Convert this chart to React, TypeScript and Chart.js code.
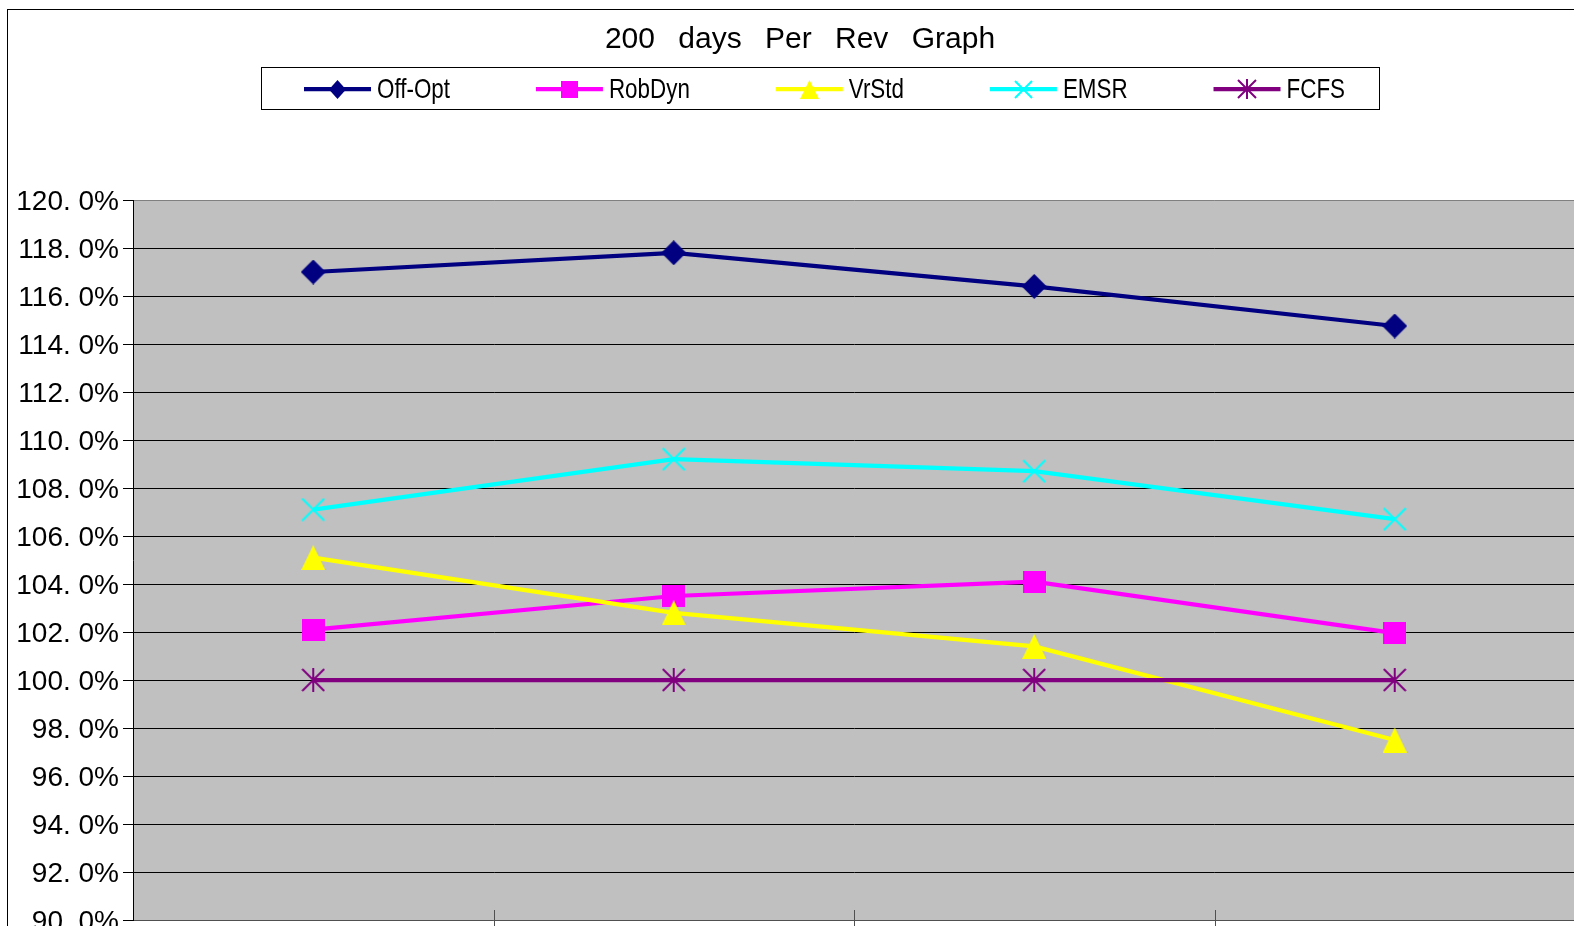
import { useEffect, useRef } from 'react';
import { Chart, registerables } from 'chart.js';

Chart.register(...registerables);

// ---- Chart data ----
const chartTitle = '200 days Per Rev Graph';
const categories = ['1', '2', '3', '4'];
const seriesNames = ['Off-Opt', 'RobDyn', 'VrStd', 'EMSR', 'FCFS'];
const offOpt = [117.0, 117.8, 116.4, 114.75];
const robDyn = [102.1, 103.5, 104.1, 101.95];
const vrStd = [105.1, 102.8, 101.4, 97.5];
const emsr = [107.1, 109.2, 108.7, 106.7];
const fcfs = [100.0, 100.0, 100.0, 100.0];
const yMin = 90;
const yMax = 120;
const yStep = 2;

// ---- Series styling ----
const seriesColors = ['#000080', '#FF00FF', '#FFFF00', '#00FFFF', '#800080'];
const markerKinds = ['diamond', 'square', 'triangle', 'x', 'star'];
const plotMarkerSizes: [number, number][] = [[25, 25], [23, 22], [24, 25], [24, 24], [24, 24]];
const legendMarkerSizes: [number, number][] = [[17, 19], [17, 17], [19, 19], [19, 19], [20, 20]];

const FONT = "'Liberation Sans', Arial, sans-serif";
const W = 1600;
const H = 1000;

function makeMarker(kind: string, color: string, w: number, h: number): HTMLCanvasElement {
  const c = document.createElement('canvas');
  c.width = w;
  c.height = h;
  const g = c.getContext('2d')!;
  g.fillStyle = color;
  g.strokeStyle = color;
  g.lineWidth = 2;
  g.beginPath();
  if (kind === 'diamond') {
    g.moveTo(w / 2, 0);
    g.lineTo(w, h / 2);
    g.lineTo(w / 2, h);
    g.lineTo(0, h / 2);
    g.closePath();
    g.fill();
  } else if (kind === 'square') {
    g.fillRect(0, 0, w, h);
  } else if (kind === 'triangle') {
    g.moveTo(w / 2, 0);
    g.lineTo(w, h);
    g.lineTo(0, h);
    g.closePath();
    g.fill();
  } else {
    g.moveTo(1, 1);
    g.lineTo(w - 1, h - 1);
    g.moveTo(w - 1, 1);
    g.lineTo(1, h - 1);
    if (kind === 'star') {
      g.moveTo(w / 2, 0);
      g.lineTo(w / 2, h);
    }
    g.stroke();
  }
  return c;
}

function formatPercent(v: number): string {
  return v.toFixed(1).replace('.', '. ') + '%';
}

// Grey plot background plus small category ticks pointing into the plot
const plotFrame = {
  id: 'plotFrame',
  beforeDraw(chart: any) {
    const { ctx, chartArea: a } = chart;
    ctx.save();
    ctx.fillStyle = '#C0C0C0';
    ctx.fillRect(a.left, a.top, a.right - a.left, a.bottom - a.top);
    ctx.restore();
  },
  beforeDatasetsDraw(chart: any) {
    const { ctx, chartArea: a } = chart;
    const xs = chart.scales.x;
    const n = chart.data.labels.length;
    ctx.save();
    ctx.strokeStyle = '#505050';
    ctx.lineWidth = 1;
    for (let i = 1; i < n; i++) {
      const px = Math.round((xs.getPixelForValue(i - 1) + xs.getPixelForValue(i)) / 2) + 0.5;
      ctx.beginPath();
      ctx.moveTo(px, a.bottom - 10);
      ctx.lineTo(px, a.bottom + 10);
      ctx.stroke();
    }
    ctx.restore();
  },
};

// Title and boxed horizontal legend
const header = {
  id: 'header',
  afterDraw(chart: any) {
    const { ctx } = chart;
    ctx.save();
    ctx.fillStyle = '#000';
    ctx.font = `30px ${FONT}`;
    ctx.textAlign = 'center';
    ctx.textBaseline = 'alphabetic';
    ctx.wordSpacing = '15px';
    ctx.fillText(chartTitle, 792, 38);
    ctx.wordSpacing = '0px';

    const box = { left: 253, top: 57, right: 1371, bottom: 99 };
    ctx.strokeStyle = '#000';
    ctx.lineWidth = 1;
    ctx.strokeRect(box.left + 0.5, box.top + 0.5, box.right - box.left, box.bottom - box.top);

    const sx = 0.8;
    const sampleW = 67;
    const textGap = 6;
    const startX = 296;
    const endX = 1337;
    const lineY = 79;
    const baseY = 88;
    ctx.font = `28px ${FONT}`;
    ctx.textAlign = 'left';
    const sets = chart.data.datasets;
    const widths = sets.map((d: any) => ctx.measureText(d.label).width * sx);
    const used = widths.reduce((s: number, w: number) => s + w + sampleW + textGap, 0);
    const gap = (endX - startX - used) / (sets.length - 1);
    let x = startX;
    sets.forEach((d: any, i: number) => {
      ctx.strokeStyle = d.borderColor;
      ctx.lineWidth = 4.25;
      ctx.beginPath();
      ctx.moveTo(x, lineY);
      ctx.lineTo(x + sampleW, lineY);
      ctx.stroke();
      const m = d.legendMarker as HTMLCanvasElement;
      ctx.drawImage(m, Math.round(x + sampleW / 2 - m.width / 2), Math.round(lineY - m.height / 2));
      ctx.save();
      ctx.translate(x + sampleW + textGap, baseY);
      ctx.scale(sx, 1);
      ctx.fillStyle = '#000';
      ctx.fillText(d.label, 0, 0);
      ctx.restore();
      x += sampleW + textGap + widths[i] + gap;
    });
    ctx.restore();
  },
};

export default function App() {
  const ref = useRef<HTMLCanvasElement>(null);

  useEffect(() => {
    const canvas = ref.current;
    if (!canvas) return;
    const values = [offOpt, robDyn, vrStd, emsr, fcfs];
    const datasets = values.map((d, i) => ({
      label: seriesNames[i],
      data: d,
      borderColor: seriesColors[i],
      backgroundColor: seriesColors[i],
      borderWidth: 4.25,
      pointStyle: makeMarker(markerKinds[i], seriesColors[i], plotMarkerSizes[i][0], plotMarkerSizes[i][1]),
      legendMarker: makeMarker(markerKinds[i], seriesColors[i], legendMarkerSizes[i][0], legendMarkerSizes[i][1]),
      pointRadius: 12,
      pointHoverRadius: 12,
      tension: 0,
      order: values.length - 1 - i,
    }));

    const chart = new Chart(canvas, {
      type: 'line',
      data: { labels: categories, datasets: datasets as any },
      plugins: [plotFrame, header],
      options: {
        responsive: false,
        animation: false,
        devicePixelRatio: 1,
        events: [],
        layout: { padding: { top: 190, left: 0, right: W - 1567, bottom: H - 910 } },
        plugins: {
          legend: { display: false },
          title: { display: false },
          tooltip: { enabled: false },
        },
        scales: {
          x: {
            type: 'category',
            offset: true,
            ticks: { display: false },
            grid: { display: true, drawOnChartArea: false, drawTicks: false },
            border: { display: true, color: '#505050', width: 1 },
            afterFit: (s: any) => {
              s.height = 0;
            },
          },
          y: {
            min: yMin,
            max: yMax,
            ticks: {
              stepSize: yStep,
              padding: 4,
              labelOffset: 2,
              color: '#000',
              font: { family: FONT, size: 28 },
              callback: (v: any) => formatPercent(Number(v)),
            },
            grid: {
              color: (c: any) => (c.tick && (c.tick.value === yMax || c.tick.value === yMin) ? '#808080' : '#000'),
              tickColor: '#000',
              tickLength: 10,
              lineWidth: 1,
            },
            border: { display: true, color: '#000', width: 1 },
            afterFit: (s: any) => {
              s.width = 125;
            },
          },
        },
      } as any,
    });
    return () => chart.destroy();
  }, []);

  return (
    <div
      style={{
        position: 'fixed',
        left: 0,
        top: 0,
        width: '100vw',
        height: '100vh',
        overflow: 'hidden',
        background: '#fff',
      }}
    >
      <div
        style={{
          position: 'absolute',
          left: 7,
          top: 9,
          width: W,
          height: H,
          border: '1px solid #000',
          background: '#fff',
        }}
      >
        <canvas ref={ref} width={W} height={H} style={{ display: 'block', width: W, height: H }} />
      </div>
    </div>
  );
}
